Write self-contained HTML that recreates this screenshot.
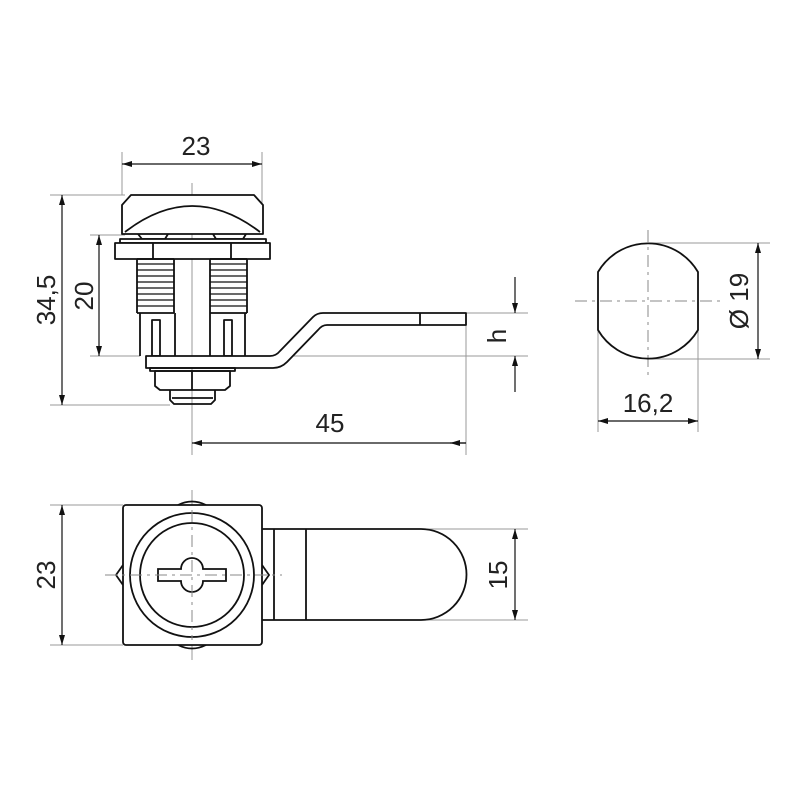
<!DOCTYPE html>
<html><head><meta charset="utf-8"><style>html,body{margin:0;padding:0;background:#fff}svg{display:block}</style></head><body>
<svg width="800" height="800" viewBox="0 0 800 800" xmlns="http://www.w3.org/2000/svg">
<defs>
<marker id="a" viewBox="0 0 10 6" refX="10" refY="3" markerWidth="18" markerHeight="6" markerUnits="userSpaceOnUse" orient="auto-start-reverse"><path d="M0,0L10,3L0,6z" fill="#111"/></marker>
</defs>
<g stroke="#999" stroke-width="1" fill="none">
<!-- extension lines -->
<line x1="122" y1="152" x2="122" y2="195"/><line x1="262" y1="152" x2="262" y2="228"/>
<line x1="50" y1="195" x2="125" y2="195"/><line x1="50" y1="405" x2="170" y2="405"/>
<line x1="90" y1="235" x2="125" y2="235"/><line x1="90" y1="356" x2="140" y2="356"/>
<line x1="192" y1="183" x2="192" y2="455"/>
<line x1="466" y1="318" x2="466" y2="455"/>
<line x1="420" y1="313" x2="528" y2="313"/><line x1="270" y1="356" x2="528" y2="356"/>
<line x1="648" y1="243" x2="770" y2="243"/><line x1="648" y1="359" x2="770" y2="359"/>
<line x1="598" y1="300" x2="598" y2="432"/><line x1="698" y1="300" x2="698" y2="432"/>
<line x1="50" y1="505" x2="123" y2="505"/><line x1="50" y1="645" x2="123" y2="645"/>
<line x1="420" y1="529" x2="528" y2="529"/><line x1="420" y1="620" x2="528" y2="620"/>
<line x1="192" y1="490" x2="192" y2="660"/>
</g>
<g stroke="#888" stroke-width="1" fill="none" stroke-dasharray="12,5,3,5">
<line x1="575" y1="301" x2="720" y2="301"/><line x1="648" y1="230" x2="648" y2="375"/>
<line x1="105" y1="575" x2="282" y2="575"/>
</g>
<!-- dimension lines -->
<g stroke="#111" stroke-width="1.2" fill="none">
<line x1="122" y1="164" x2="262" y2="164" marker-start="url(#a)" marker-end="url(#a)"/>
<line x1="62" y1="195" x2="62" y2="405" marker-start="url(#a)" marker-end="url(#a)"/>
<line x1="99" y1="235" x2="99" y2="356" marker-start="url(#a)" marker-end="url(#a)"/>
<line x1="192" y1="443" x2="466" y2="443" marker-start="url(#a)"/>
<line x1="466" y1="443" x2="450" y2="443" marker-end="url(#a)"/>
<line x1="515" y1="277" x2="515" y2="313" marker-end="url(#a)"/>
<line x1="515" y1="392" x2="515" y2="356" marker-end="url(#a)"/>
<line x1="758" y1="243" x2="758" y2="359" marker-start="url(#a)" marker-end="url(#a)"/>
<line x1="598" y1="421" x2="698" y2="421" marker-start="url(#a)" marker-end="url(#a)"/>
<line x1="62" y1="505" x2="62" y2="645" marker-start="url(#a)" marker-end="url(#a)"/>
<line x1="515" y1="529" x2="515" y2="620" marker-start="url(#a)" marker-end="url(#a)"/>
</g>
<g font-family="Liberation Sans, sans-serif" font-size="26" fill="#222" text-anchor="middle">
<text x="196" y="155">23</text>
<text x="330" y="432">45</text>
<text x="648" y="412">16,2</text>
<text transform="translate(55,300) rotate(-90)">34,5</text>
<text transform="translate(93,296) rotate(-90)">20</text>
<text transform="translate(506,336) rotate(-90)">h</text>
<text transform="translate(748,301) rotate(-90)">Ø 19</text>
<text transform="translate(55,575) rotate(-90)">23</text>
<text transform="translate(507,575) rotate(-90)">15</text>
</g>
<!-- side view -->
<g stroke="#111" stroke-width="1.8" fill="none" stroke-linejoin="round">
<path d="M131,195 H254 L263,205 V234 H122 V205 Z" fill="#fff"/>
<path d="M125,232 Q192,180 260,232"/>
<path d="M138,234 L142,239 H165 L168,234 M213,234 L216,239 H243 L246,234"/>
<rect x="120" y="239" width="146" height="4" fill="#fff"/>
<rect x="115" y="243" width="155" height="16" fill="#fff"/>
<line x1="153" y1="243" x2="153" y2="259"/><line x1="231" y1="243" x2="231" y2="259"/>
<path d="M137,259 H174 M137,313 H174 M137,259 V313 M174,259 V313"/>
<path d="M210,259 H247 M210,313 H247 M210,259 V313 M247,259 V313"/>
<g stroke-width="1.3">
<path d="M137,264h37M137,270h37M137,276h37M137,282h37M137,288h37M137,294h37M137,300h37M137,306h37"/>
<path d="M210,264h37M210,270h37M210,276h37M210,282h37M210,288h37M210,294h37M210,300h37M210,306h37"/>
</g>
<path d="M140,313 V356 M175,313 V356 M210,313 V356 M245,313 V356"/>
<rect x="152" y="320" width="8" height="36"/><rect x="224" y="320" width="8" height="36"/>
<path d="M146,356 H270 Q276,356 280,351 L313,317 Q317,313 323,313 H466 V325 H327 Q322,325 318,330 L287,362 Q281,368 273,368 H146 Z" fill="#fff"/>
<line x1="420" y1="313" x2="420" y2="325"/>
<rect x="150" y="368" width="85" height="3"/>
<path d="M155,371 H230 V386 L225,390 H160 L155,386 Z"/>
<line x1="192" y1="371" x2="192" y2="390"/>
<path d="M170,390 V400 L174,404 H211 L215,400 V390"/>
<line x1="172" y1="398" x2="213" y2="398"/>
</g>
<!-- right view -->
<path d="M598,272 A58,58 0 0 1 698,272 V330 A58,58 0 0 1 598,330 Z" stroke="#111" stroke-width="1.8" fill="none"/>
<!-- bottom view -->
<g stroke="#111" stroke-width="1.8" fill="none">
<path d="M178,505 Q192,498 206,505 M178,645 Q192,652 206,645"/>
<path d="M123,565 L116,575 L123,585 M262,565 L269,575 L262,585"/>
<path d="M262,529 H421 A45.5,45.5 0 0 1 421,620 H262"/>
<line x1="274" y1="529" x2="274" y2="620"/><line x1="306" y1="529" x2="306" y2="620"/>
<rect x="123" y="505" width="139" height="140" rx="3" fill="#fff"/>
<circle cx="192" cy="575" r="62"/>
<circle cx="192" cy="575" r="52"/>
<path d="M158,569 H181 A11,11 0 0 1 203,569 H226 V581 H203 A11,11 0 0 1 181,581 H158 Z"/>
</g>
<g stroke="#888" stroke-width="1" fill="none" stroke-dasharray="12,5,3,5">
<line x1="192" y1="510" x2="192" y2="640"/>
<line x1="105" y1="575" x2="282" y2="575"/>
</g>
</svg>
</body></html>
